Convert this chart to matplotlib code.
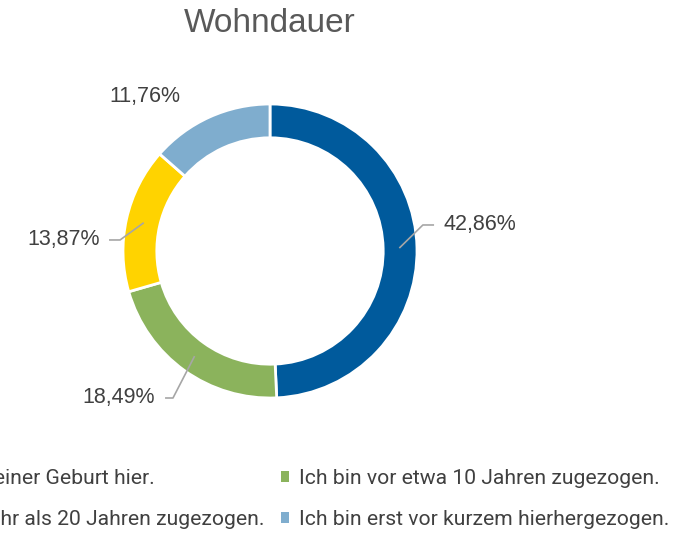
import matplotlib
matplotlib.use("Agg")
import matplotlib.pyplot as plt
from matplotlib.patches import Patch
import numpy as np

categories = [
    "Ich bin seit meiner Geburt hier.",
    "Ich bin vor etwa 10 Jahren zugezogen.",
    "Ich bin vor mehr als 20 Jahren zugezogen.",
    "Ich bin erst vor kurzem hierhergezogen.",
]
values = [42.86, 18.49, 13.87, 11.76]
value_labels = ["42,86%", "18,49%", "13,87%", "11,76%"]
colors = ["#005A9C", "#8BB35C", "#FFD300", "#7FADCE"]

legend_font = "Roboto"
main_font = "Liberation Sans"

W, H = 692, 534
fig = plt.figure(figsize=(W / 100, H / 100), dpi=100)

cx, cy, R = 270, 534 - 251, 147
lim = 1.8
ax = fig.add_axes([(cx - lim * R) / W, (cy - lim * R) / H, 2 * lim * R / W, 2 * lim * R / H])

wedges, _ = ax.pie(values, colors=colors, startangle=90, counterclock=False, radius=1.0,
                   wedgeprops=dict(width=0.23, edgecolor="white", linewidth=2))
ax.set_xlim(-lim, lim)
ax.set_ylim(-lim, lim)
ax.set_aspect("equal")
ax.axis("off")

# label layout: (elbow, end of horizontal, text pos, ha)
layout = [
    ((1.04, 0.177), (1.116, 0.177), (1.177, 0.177), "left"),
    ((-0.66, -1.0), (-0.714, -1.0), (-0.782, -1.0), "right"),
    ((-1.02, 0.075), (-1.095, 0.075), (-1.156, 0.075), "right"),
    (None, None, (-0.85, 1.054), "center"),
]
txtcol = "#404040"
for w, lab, (elb, end, tpos, ha) in zip(wedges, value_labels, layout):
    mid = np.deg2rad((w.theta1 + w.theta2) / 2)
    if elb is not None:
        sx, sy = 0.88 * np.cos(mid), 0.88 * np.sin(mid)
        ax.plot([sx, elb[0], end[0]], [sy, elb[1], end[1]], color="#A6A6A6", lw=1.2,
                solid_capstyle="butt")
    ax.text(tpos[0], tpos[1], lab, ha=ha, va="center", fontsize=15.5,
            color=txtcol, family=main_font)

fig.text(cx / W, 1 - 23 / H, "Wohndauer", ha="center", va="center", fontsize=24,
         color="#595959", family=main_font)

# legend filled row-wise: reorder for matplotlib's column-major fill
order = [0, 2, 1, 3]
handles = [Patch(facecolor=colors[i], edgecolor="none") for i in order]
labels = [categories[i] for i in order]
leg = fig.legend(handles, labels, ncol=2, loc="lower right",
                 bbox_to_anchor=(669 / W, 5 / H), frameon=False,
                 prop=dict(family=legend_font, size=15.2), labelcolor=txtcol,
                 handlelength=0.4, handleheight=0.4, handletextpad=0.45,
                 columnspacing=0.75, labelspacing=1.05, borderpad=0, borderaxespad=0)

fig.savefig("out.png", dpi=100)
